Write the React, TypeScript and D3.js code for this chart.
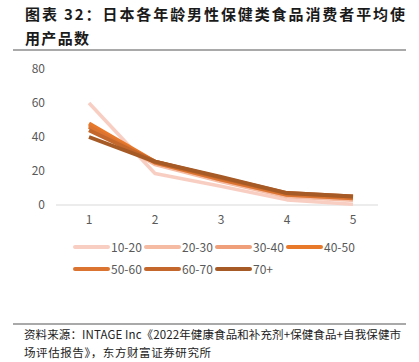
import React from "react";
import * as d3 from "d3";

const categories = [1, 2, 3, 4, 5];
const yTicks = [0, 20, 40, 60, 80];
const seriesNames = ["10-20", "20-30", "30-40", "40-50", "50-60", "60-70", "70+"];
const s1020 = [60, 18.5, 11, 3, 0.5];
const s2030 = [46, 24, 14, 5, 3];
const s3040 = [47, 25, 15, 6, 4];
const s4050 = [48, 25.5, 15.5, 6.5, 4.5];
const s5060 = [46, 25, 15, 6, 4];
const s6070 = [44, 25.5, 16, 7, 5];
const s70p = [40, 25.5, 16.5, 7, 5];
const seriesValues = [s1020, s2030, s3040, s4050, s5060, s6070, s70p];
const colors = ["#F8CEC3", "#F5BBA3", "#EFA07A", "#E8782A", "#DB7431", "#C4672C", "#A65A26"];
const widths = [3.5, 4, 4, 4, 4, 4, 4];

const titleLines = ["图表 32：日本各年龄男性保健类食品消费者平均使", "用产品数"];
const titleLengths = [380, 64];
const sourceLines = [
  "资料来源：INTAGE Inc《2022年健康食品和补充剂+保健食品+自我保健市",
  "场评估报告》，东方财富证券研究所",
];
const sourceLengths = [377, 187];

export default function App() {
  const W = 419, H = 362;
  const x = d3.scaleLinear().domain([1, 5]).range([89, 353]);
  const y = d3.scaleLinear().domain([0, 80]).range([205, 69]);
  const line = d3.line<number>().x((_, i) => x(categories[i])).y((d) => y(d));
  const font = "'Noto Sans CJK SC', 'Noto Sans', sans-serif";
  const legendPos = seriesNames.map((_, i) => ({
    lx: 75 + (i % 4) * 71,
    ly: i < 4 ? 247 : 269,
  }));
  return (
    <svg width={W} height={H} style={{ position: "absolute", left: 0, top: 0, background: "#fff" }}>
      {titleLines.map((t, i) => (
        <text key={i} x={25} y={20 + i * 24} fontSize={15} fontWeight="bold" fontFamily={font} fill="#1a1a1a"
          textLength={titleLengths[i]} lengthAdjust="spacing">
          {t}
        </text>
      ))}
      <line x1={13} x2={406} y1={50} y2={50} stroke="#555" strokeWidth={1.2} />
      {yTicks.map((t) => (
        <text key={t} x={45} y={y(t) + 4} textAnchor="end" fontSize={12} fontFamily={font} fill="#595959">
          {t}
        </text>
      ))}
      <line x1={56} x2={378} y1={y(0)} y2={y(0)} stroke="#d9d9d9" strokeWidth={1} />
      {categories.map((c) => (
        <text key={c} x={x(c)} y={224} textAnchor="middle" fontSize={12} fontFamily={font} fill="#595959">
          {c}
        </text>
      ))}
      {seriesValues.map((vals, i) => (
        <path key={i} d={line(vals) || ""} fill="none" stroke={colors[i]} strokeWidth={widths[i]} strokeLinejoin="round" />
      ))}
      {seriesNames.map((n, i) => (
        <g key={n}>
          <line x1={legendPos[i].lx} x2={legendPos[i].lx + 33} y1={legendPos[i].ly} y2={legendPos[i].ly} stroke={colors[i]} strokeWidth={4} strokeLinecap="round" />
          <text x={legendPos[i].lx + 36} y={legendPos[i].ly + 4.5} fontSize={12} fontFamily={font} fill="#595959">
            {n}
          </text>
        </g>
      ))}
      <line x1={13} x2={406} y1={324} y2={324} stroke="#555" strokeWidth={1.2} />
      {sourceLines.map((t, i) => (
        <text key={i} x={24} y={339 + i * 18} fontSize={11.5} fontFamily={font} fill="#222"
          textLength={sourceLengths[i]} lengthAdjust="spacing">
          {t}
        </text>
      ))}
    </svg>
  );
}
